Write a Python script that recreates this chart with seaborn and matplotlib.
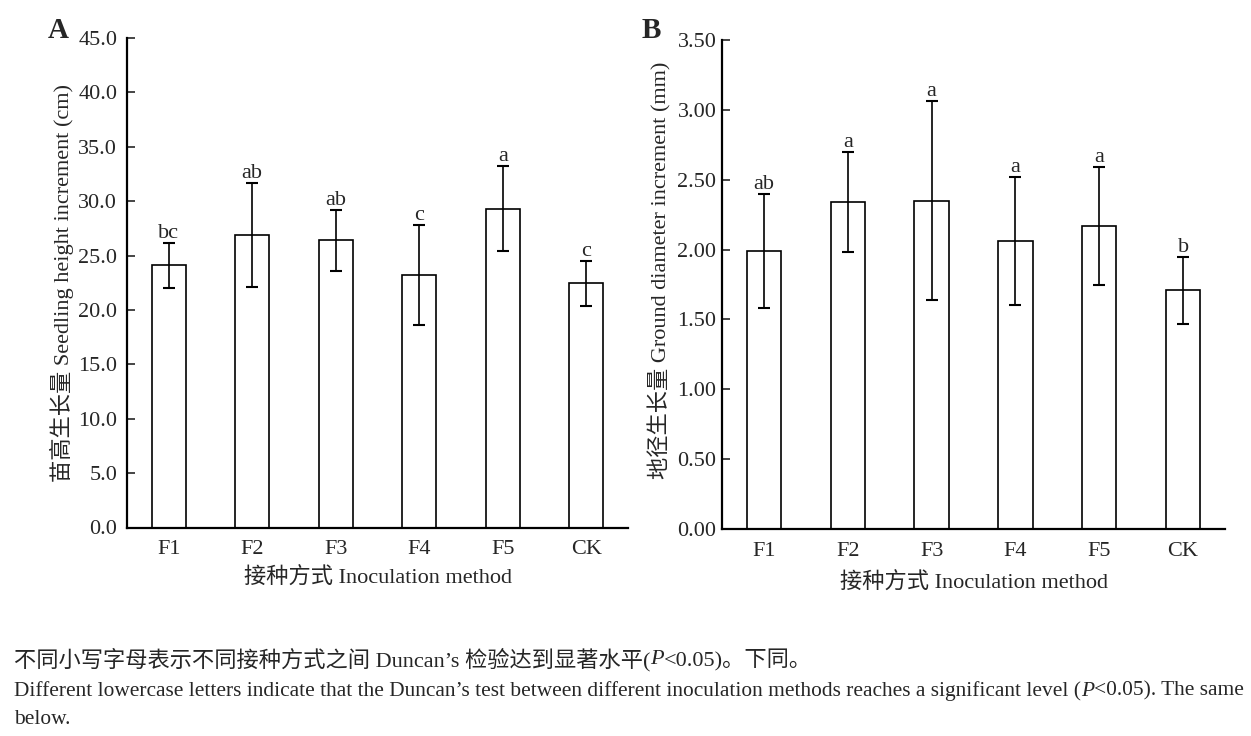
import matplotlib
matplotlib.use("Agg")
import matplotlib.pyplot as plt
import numpy as np
import pandas as pd
import seaborn as sb

# data
methods = ["F1", "F2", "F3", "F4", "F5", "CK"]
height_mean = [24.1, 26.9, 26.4, 23.2, 29.3, 22.45]
height_sd = [2.1, 4.8, 2.8, 4.6, 3.9, 2.05]
height_letters = ["bc", "ab", "ab", "c", "a", "c"]
diam_mean = [1.99, 2.34, 2.35, 2.06, 2.17, 1.71]
diam_sd = [0.41, 0.36, 0.71, 0.46, 0.42, 0.24]
diam_letters = ["ab", "a", "a", "a", "a", "b"]

sb.set_style("white")
fonts = ["Liberation Serif", "Noto Sans CJK SC"]
plt.rcParams["font.family"] = fonts
plt.rcParams["axes.unicode_minus"] = False

fig = plt.figure(figsize=(12.51, 7.36), dpi=100)
W, H = 1251, 736


def box(l, r, b, t):
    return [l / W, 1 - b / H, (r - l) / W, (b - t) / H]


def panel(ax, means, sds, letters, ymax, step, fmt, ylabel, xpad, ypad):
    df = pd.DataFrame({"method": methods, "value": means})
    sb.barplot(data=df, x="method", y="value", ax=ax, color="white",
               edgecolor="black", linewidth=1.2, width=0.41, errorbar=None,
               saturation=1)
    x = np.arange(len(methods))
    ax.errorbar(x, means, yerr=sds, fmt="none", ecolor="black",
                elinewidth=1.2, capsize=4.5, capthick=1.5)
    for xi, m, s, lab in zip(x, means, sds, letters):
        ax.annotate(lab, (xi, m + s), xytext=(0, 0), textcoords="offset points",
                    ha="center", va="bottom", fontsize=16)
    ax.set_xlim(-0.5, 5.5)
    ax.set_ylim(0, ymax)
    ticks = np.arange(0, ymax + step / 2, step)
    ax.set_yticks(ticks)
    ax.set_yticklabels([fmt.format(t) for t in ticks])
    ax.tick_params(axis="y", direction="in", length=6, width=1.2,
                   labelsize=16, pad=ypad, left=True)
    ax.tick_params(axis="x", length=0, labelsize=16, pad=9)
    for side in ["top", "right"]:
        ax.spines[side].set_visible(False)
    for side in ["left", "bottom"]:
        ax.spines[side].set_linewidth(1.6)
        ax.spines[side].set_color("black")
    ax.set_xlabel("接种方式 Inoculation method", fontsize=16, labelpad=xpad)
    ax.set_ylabel(ylabel, fontsize=16)


axA = fig.add_axes(box(127, 628, 527.5, 38))
panel(axA, height_mean, height_sd, height_letters, 45, 5, "{:.1f}",
      "苗高生长量 Seedling height increment (cm)", 6, 7)
axA.yaxis.set_label_coords(-0.106, 0.5)
axB = fig.add_axes(box(722, 1225, 529, 40))
panel(axB, diam_mean, diam_sd, diam_letters, 3.5, 0.5, "{:.2f}",
      "地径生长量 Ground diameter increment (mm)", 9, 4)
axB.yaxis.set_label_coords(-0.1, 0.53)

fig.text(48 / W, 1 - 30 / H, "A", fontsize=21, fontweight="bold", va="center")
fig.text(642 / W, 1 - 30 / H, "B", fontsize=21, fontweight="bold", va="center")

# caption, drawn in pieces so that P can be italic
renderer = fig.canvas.get_renderer()


def line(y, parts, size):
    x = 14
    for txt, style in parts:
        t = fig.text(x / W, 1 - y / H, txt, fontsize=size, style=style,
                     va="center")
        x = t.get_window_extent(renderer).x1


line(660, [("不同小写字母表示不同接种方式之间 Duncan’s 检验达到显著水平(", "normal"),
           ("P", "italic"), ("<0.05)。下同。", "normal")], 16)
line(691, [("Different lowercase letters indicate that the Duncan’s test between "
            "different inoculation methods reaches a significant level (", "normal"),
           ("P", "italic"), ("<0.05). The same", "normal")], 15.4)
line(720, [("below.", "normal")], 15.4)

fig.savefig("out.png", dpi=100, facecolor="white")
